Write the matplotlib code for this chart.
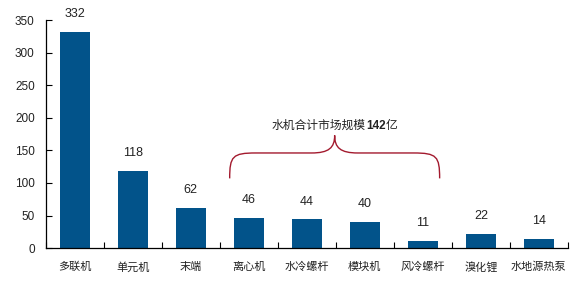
import matplotlib
matplotlib.use("Agg")
import matplotlib.pyplot as plt
from matplotlib.path import Path
from matplotlib.patches import PathPatch
from matplotlib.offsetbox import TextArea, HPacker, AnnotationBbox

plt.rcParams['font.family'] = ['Liberation Sans', 'Noto Sans CJK SC', 'DejaVu Sans']

categories = ['多联机', '单元机', '末端', '离心机', '水冷螺杆', '模块机', '风冷螺杆', '溴化锂', '水地源热泵']
values = [332, 118, 62, 46, 44, 40, 11, 22, 14]
yticks = [0, 50, 100, 150, 200, 250, 300, 350]
note_parts = ['水机合计市场规模', '142', '亿']

bar_color = '#02538A'
brace_color = '#A31A2E'
text_color = '#222222'

fig = plt.figure(figsize=(5.8, 2.95), dpi=100)
ax = fig.add_axes([0.079, 0.159, 0.9, 0.773])

x = list(range(len(categories)))
ax.bar(x, values, width=0.52, color=bar_color)
for xi, v in zip(x, values):
    ax.annotate(str(v), (xi, v), xytext=(0, 8.5), textcoords='offset points',
                ha='center', va='bottom', fontsize=9, color=text_color)

ax.set_xlim(-0.5, len(categories) - 0.5)
ax.set_ylim(0, 350)
ax.set_yticks(yticks)
ax.set_xticks([i + 0.5 for i in range(-1, len(categories))], minor=False)
ax.set_xticklabels([])
ax.set_xticks(x, minor=True)
ax.set_xticklabels(categories, minor=True, fontsize=8, color=text_color)
ax.tick_params(axis='x', which='major', direction='in', length=4, width=0.8)
ax.tick_params(axis='x', which='minor', length=0, pad=10)
ax.tick_params(axis='y', direction='in', length=4, width=0.8, labelsize=8.5,
               labelcolor=text_color, pad=8)
for s in ['top', 'right']:
    ax.spines[s].set_visible(False)
for s in ['left', 'bottom']:
    ax.spines[s].set_linewidth(0.9)

# curly brace over the water-chiller group
x0, x1 = 2.67, 6.29
xc = (x0 + x1) / 2
yb, yh, yp = 107, 146, 173
verts = [
    (x0, yb), (x0, yh - 5), (x0 + 0.05, yh), (x0 + 0.45, yh),
    (xc - 0.4, yh),
    (xc - 0.1, yh), (xc, yh + 8), (xc, yp),
    (xc, yh + 8), (xc + 0.1, yh), (xc + 0.4, yh),
    (x1 - 0.45, yh),
    (x1 - 0.05, yh), (x1, yh - 5), (x1, yb),
]
codes = [Path.MOVETO, Path.CURVE4, Path.CURVE4, Path.CURVE4,
         Path.LINETO,
         Path.CURVE4, Path.CURVE4, Path.CURVE4,
         Path.CURVE4, Path.CURVE4, Path.CURVE4,
         Path.LINETO,
         Path.CURVE4, Path.CURVE4, Path.CURVE4]
ax.add_patch(PathPatch(Path(verts, codes), facecolor='none', edgecolor=brace_color,
                       linewidth=1.0, clip_on=False))

weights = ['normal', 'bold', 'normal']
areas = [TextArea(t, textprops=dict(fontsize=8.5, color=text_color, fontweight=w))
         for t, w in zip(note_parts, weights)]
box = HPacker(children=areas, align='baseline', pad=0, sep=0)
ab = AnnotationBbox(box, (xc, 187), xycoords='data', frameon=False, box_alignment=(0.5, 0.5))
ax.add_artist(ab)

fig.savefig('out.png', dpi=100)
